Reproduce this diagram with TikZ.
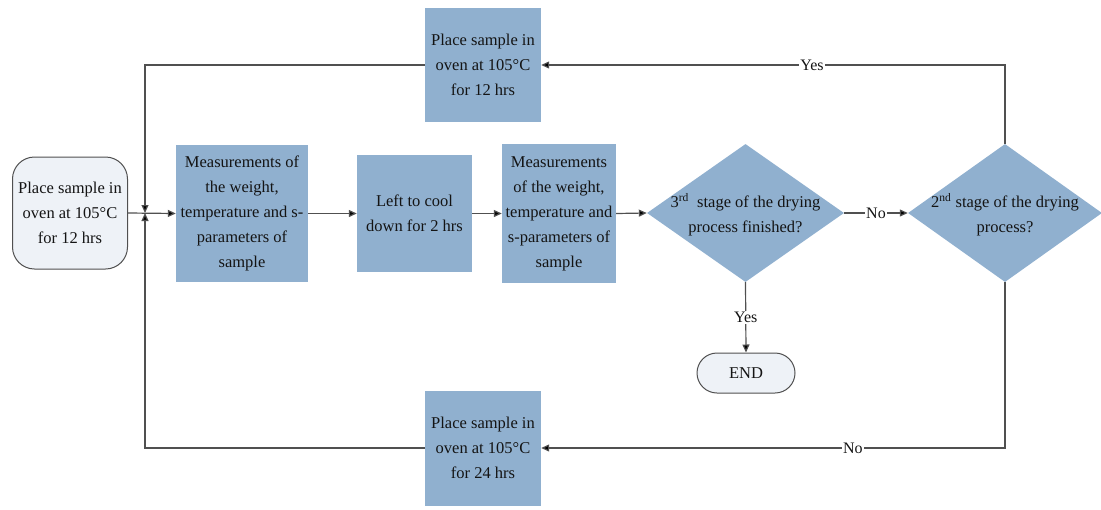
\documentclass[tikz,border=0pt]{standalone}
\usepackage{fontspec}
\setmainfont{Liberation Serif}
\usetikzlibrary{shapes.geometric,arrows.meta}
\definecolor{boxblue}{RGB}{144,176,207}
\definecolor{termfill}{RGB}{238,242,247}
\definecolor{linegrey}{RGB}{80,80,80}
\definecolor{txt}{RGB}{20,20,20}
\tikzset{
  every node/.style={text=txt},
  proc/.style={rectangle, fill=boxblue, inner sep=0pt, align=center, font=\fontsize{16.5}{25}\selectfont},
  term/.style={rectangle, rounded corners=22pt, draw=linegrey, line width=1pt, fill=termfill, inner sep=0pt, align=center, font=\fontsize{16.5}{25}\selectfont},
  dec/.style={diamond, fill=boxblue, inner sep=0pt, minimum width=194pt, minimum height=138pt},
  dectext/.style={align=center, font=\fontsize{16.5}{25}\selectfont},
  conn/.style={draw=linegrey, line width=1.2pt},
  arr/.style={conn, -{Triangle[length=8pt,width=7pt,fill=black]}},
  lbl/.style={fill=white, inner sep=1pt, font=\fontsize{16}{18}\selectfont},
}
\begin{document}
\begin{tikzpicture}[x=1pt,y=-1pt]
\useasboundingbox (0,0) rectangle (1101,509);
\node[term, minimum width=115pt, minimum height=112pt] (start) at (70,213) {Place sample in\\oven at 105°C\\for 12 hrs};
\node[proc, minimum width=132pt, minimum height=137pt] (b1) at (242,213.5) {Measurements of\\the weight,\\temperature and s-\\parameters of\\sample};
\node[proc, minimum width=115pt, minimum height=117pt] (b2) at (414.5,213.5) {Left to cool\\down for 2 hrs};
\node[proc, minimum width=114pt, minimum height=139pt] (b3) at (559,213.5) {Measurements\\of the weight,\\temperature and\\s-parameters of\\sample};
\node[dec, minimum width=197pt] (d1) at (745.5,213) {};
\node[dectext] (d1t) at (745.5,215) {3\textsuperscript{rd}\ \ stage of the drying\\process finished?};
\node[dec] (d2) at (1005,213) {};
\node[dectext] (d2t) at (1005,215) {2\textsuperscript{nd} stage of the drying\\process?};
\node[proc, minimum width=116pt, minimum height=114pt] (top) at (483,65) {Place sample in\\oven at 105°C\\for 12 hrs};
\node[proc, minimum width=116pt, minimum height=115pt] (bot) at (483,448) {Place sample in\\oven at 105°C\\for 24 hrs};
\node[term, rounded corners=20pt, minimum width=98pt, minimum height=40pt] (end) at (746,373) {END};
\coordinate (j) at (145,213);
% main flow
\draw[arr] (start.east) -- (b1.west);
\draw[arr] (b1.east) -- (b2.west);
\draw[arr] (b2.east) -- (b3.west);
\draw[arr] (b3.east) -- (d1.west);
\draw[arr] (d1.east) -- node[lbl] (no1) {No} (d2.west);
\draw[arr] (d1.south) -- node[lbl] (yes1) {Yes} (end.north);
% loops
\draw[arr] (d2.north) |- node[lbl, pos=0.708] (yes2) {Yes} (top.east);
\draw[arr] (top.west) -| (j);
\draw[arr] (d2.south) |- node[lbl, pos=0.664] (no2) {No} (bot.east);
\draw[arr] (bot.west) -| (j);
\end{tikzpicture}
\end{document}
